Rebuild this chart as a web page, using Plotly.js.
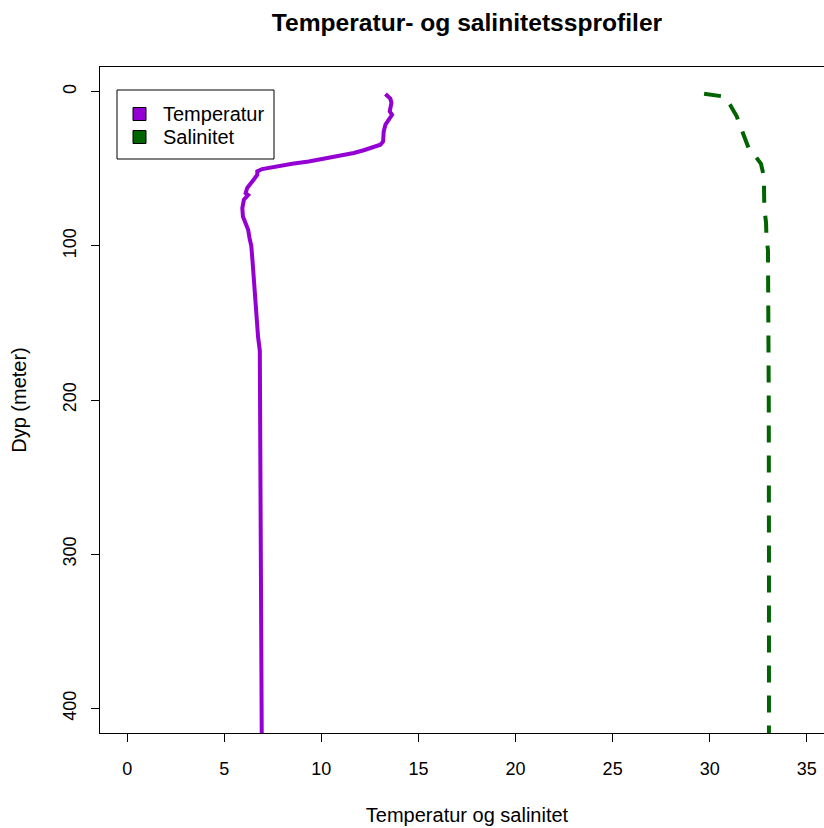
<!DOCTYPE html>
<html>
<head>
<meta charset="utf-8">
<script src="https://cdn.plot.ly/plotly-3.0.1.min.js"></script>
<style>
  html, body { margin: 0; padding: 0; overflow: hidden; background: #ffffff; }
  #chart { width: 860px; height: 828px; }
</style>
</head>
<body>
<div id="chart"></div>
<script>
// Temperature profile: depth (m) and temperature (°C)
const tempDepth = [1.5, 4.5, 7.3, 10.6, 12.8, 15, 18, 21.4, 25.8, 32.3, 34.4, 36, 38, 39.8, 41, 42.3,
  43.7, 45.3, 46.8, 48.5, 50.2, 51.7, 53.9, 57, 62.5, 65.8, 67, 70, 75.5, 81, 86.4, 89.6, 95,
  100, 109, 122, 133, 142, 159, 168, 250, 330, 331, 420];
const temperature = [13.30, 13.55, 13.61, 13.55, 13.52, 13.64, 13.47, 13.30, 13.21, 13.18, 13.04, 12.70, 12.18, 11.67, 11.15, 10.60,
  10.21, 9.35, 8.50, 7.64, 6.95, 6.70, 6.70, 6.52, 6.18, 6.10, 6.23, 6.01, 5.93, 5.96, 6.10, 6.23, 6.30,
  6.39, 6.45, 6.52, 6.61, 6.67, 6.74, 6.83, 6.85, 6.87, 6.92, 6.93];

// Salinity profile: depth (m) and salinity
const salDepth = [1.3, 2.4, 3.2, 8.4, 16, 23.6, 32, 36.5, 41, 46.8, 55, 66, 75.5, 85, 94, 103, 134, 200, 300, 420];
const salinity = [29.71, 30.55, 30.75, 31.04, 31.39, 31.61, 31.85, 32.00, 32.30, 32.64, 32.79, 32.79, 32.81, 32.90, 32.92, 33.00, 33.02, 33.04, 33.05, 33.05];

const seriesNames = ["Temperatur", "Salinitet"];
const seriesColors = ["#9400D3", "#006400"];

const xTicks = [0, 5, 10, 15, 20, 25, 30, 35];
const yTicks = [0, 100, 200, 300, 400];

const FONT = "Liberation Sans, Arial, sans-serif";

// plot area in pixels (used to place the legend box in paper units)
const PLOT = { left: 100, top: 67, width: 734, height: 666 };
const px = (x) => (x - PLOT.left) / PLOT.width;
const py = (y) => (PLOT.top + PLOT.height - y) / PLOT.height;

const traces = [
  {
    type: "scatter", mode: "lines",
    x: temperature, y: tempDepth,
    name: seriesNames[0],
    line: { color: seriesColors[0], width: 4 },
    showlegend: false, hoverinfo: "skip"
  },
  {
    type: "scatter", mode: "lines",
    x: salinity, y: salDepth,
    name: seriesNames[1],
    line: { color: seriesColors[1], width: 4, dash: "17px,13px" },
    showlegend: false, hoverinfo: "skip"
  }
];

// legend: framed box with filled squares and labels
const shapes = [
  {
    type: "rect", xref: "paper", yref: "paper",
    x0: px(117), x1: px(274), y0: py(159), y1: py(90),
    line: { color: "#000000", width: 1 }, fillcolor: "#ffffff", layer: "above"
  }
];
const annotations = [];
seriesNames.forEach((name, i) => {
  const cy = 114 + i * 23;
  shapes.push({
    type: "rect", xref: "paper", yref: "paper",
    x0: px(133), x1: px(146), y0: py(cy + 6.5), y1: py(cy - 6.5),
    line: { color: "#000000", width: 1 }, fillcolor: seriesColors[i], layer: "above"
  });
  annotations.push({
    xref: "paper", yref: "paper", x: px(161), y: py(cy),
    xanchor: "left", yanchor: "middle", showarrow: false,
    text: name, font: { family: FONT, size: 20, color: "#000000" }
  });
});

const layout = {
  width: 860, height: 828,
  margin: { l: 100, r: 26, t: 67, b: 95 },
  paper_bgcolor: "#ffffff", plot_bgcolor: "#ffffff",
  font: { family: FONT, size: 18, color: "#000000" },
  showlegend: false,
  title: {
    text: "<b>Temperatur- og salinitetssprofiler</b>",
    font: { family: FONT, size: 24.6, color: "#000000" },
    x: 0.5, xref: "paper", xanchor: "center",
    y: 1 - 22 / 828, yref: "container", yanchor: "middle"
  },
  xaxis: {
    range: [-1.4, 36.4],
    tickvals: xTicks, ticktext: xTicks.map(String),
    ticks: "outside", ticklen: 8, tickwidth: 1, tickcolor: "#000000",
    ticklabelstandoff: 11,
    showline: true, linecolor: "#000000", linewidth: 1, mirror: true,
    showgrid: false, zeroline: false,
    tickfont: { family: FONT, size: 18, color: "#000000" },
    title: { text: "Temperatur og salinitet", font: { family: FONT, size: 20, color: "#000000" }, standoff: 30 }
  },
  yaxis: {
    range: [416, -16],
    tickvals: yTicks, ticktext: yTicks.map(String),
    tickangle: -90,
    ticks: "outside", ticklen: 8, tickwidth: 1, tickcolor: "#000000",
    ticklabelstandoff: 8,
    showline: true, linecolor: "#000000", linewidth: 1, mirror: true,
    showgrid: false, zeroline: false,
    tickfont: { family: FONT, size: 18, color: "#000000" },
    title: { text: "Dyp (meter)", font: { family: FONT, size: 20, color: "#000000" }, standoff: 27 }
  },
  shapes: shapes,
  annotations: annotations
};

Plotly.newPlot("chart", traces, layout, { displayModeBar: false, staticPlot: true });
</script>
</body>
</html>
